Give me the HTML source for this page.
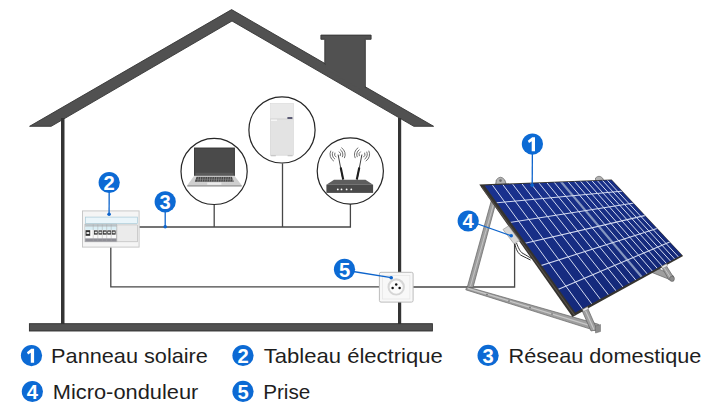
<!DOCTYPE html>
<html><head><meta charset="utf-8"><style>
html,body{margin:0;padding:0;background:#fff;width:720px;height:412px;overflow:hidden;}
svg{display:block;font-family:"Liberation Sans",sans-serif;}
</style></head><body>
<svg width="720" height="412" viewBox="0 0 720 412">
<rect width="720" height="412" fill="#fff"/>
<polygon points="29.6,126.3 231.6,9.6 433.6,126.3 413.8,126.3 232,21 51.2,126.3" fill="#515151" stroke="#353535" stroke-width="0.9" stroke-linejoin="miter"/>
<polygon points="320.9,35.1 371.1,35.1 371.1,39.3 365.3,39.3 365.3,87.5 324.8,64 324.8,39.3 320.9,39.3" fill="#515151" stroke="#353535" stroke-width="0.9"/>
<polygon points="325.5,60 364.8,60 364.8,92 325.5,69" fill="#515151"/>
<rect x="61.0" y="118" width="3.5" height="206" fill="#343434"/>
<rect x="398.0" y="118" width="3.2" height="206" fill="#343434"/>
<rect x="29.4" y="323.7" width="403" height="7.3" fill="#515151" stroke="#2e2e2e" stroke-width="0.9"/>
<g stroke="#474747" stroke-width="1.3" fill="none">
<polyline points="139.3,227 350.4,227 350.4,204"/>
<line x1="214.2" y1="204.7" x2="214.2" y2="227"/>
<line x1="282.5" y1="163.4" x2="282.5" y2="227"/>
<polyline points="110.8,247.3 110.8,286.8 379.5,286.8"/>
<polyline points="413,287 514.6,287 514.6,243"/>
</g>
<circle cx="214.1" cy="171.4" r="33.1" fill="#fff" stroke="#262626" stroke-width="1.2"/>
<circle cx="282.0" cy="129.9" r="33.1" fill="#fff" stroke="#262626" stroke-width="1.2"/>
<circle cx="350.3" cy="171.0" r="33.1" fill="#fff" stroke="#262626" stroke-width="1.2"/>
<rect x="194.5" y="148" width="39.9" height="27.9" fill="#4a4a4a" stroke="#333" stroke-width="0.9"/>
<rect x="195.5" y="172.8" width="37.9" height="2.6" fill="#5a5a5a"/>
<polygon points="194,176 234.6,176 241.7,185.3 187.3,185.3" fill="#cfcfcf"/>
<polygon points="187.3,185.3 241.7,185.3 241.7,186.4 187.3,186.4" fill="#8a8a8a"/>
<polygon points="196.6,176.8 232,176.8 233.8,181.8 194.8,181.8" fill="#444"/>
<line x1="198.40" y1="176.9" x2="197.80" y2="181.7" stroke="#c4c4c4" stroke-width="0.45"/>
<line x1="200.70" y1="176.9" x2="200.10" y2="181.7" stroke="#c4c4c4" stroke-width="0.45"/>
<line x1="203.00" y1="176.9" x2="202.40" y2="181.7" stroke="#c4c4c4" stroke-width="0.45"/>
<line x1="205.30" y1="176.9" x2="204.70" y2="181.7" stroke="#c4c4c4" stroke-width="0.45"/>
<line x1="207.60" y1="176.9" x2="207.00" y2="181.7" stroke="#c4c4c4" stroke-width="0.45"/>
<line x1="209.90" y1="176.9" x2="209.30" y2="181.7" stroke="#c4c4c4" stroke-width="0.45"/>
<line x1="212.20" y1="176.9" x2="211.60" y2="181.7" stroke="#c4c4c4" stroke-width="0.45"/>
<line x1="214.50" y1="176.9" x2="213.90" y2="181.7" stroke="#c4c4c4" stroke-width="0.45"/>
<line x1="216.80" y1="176.9" x2="216.20" y2="181.7" stroke="#c4c4c4" stroke-width="0.45"/>
<line x1="219.10" y1="176.9" x2="218.50" y2="181.7" stroke="#c4c4c4" stroke-width="0.45"/>
<line x1="221.40" y1="176.9" x2="220.80" y2="181.7" stroke="#c4c4c4" stroke-width="0.45"/>
<line x1="223.70" y1="176.9" x2="223.10" y2="181.7" stroke="#c4c4c4" stroke-width="0.45"/>
<line x1="226.00" y1="176.9" x2="225.40" y2="181.7" stroke="#c4c4c4" stroke-width="0.45"/>
<line x1="228.30" y1="176.9" x2="227.70" y2="181.7" stroke="#c4c4c4" stroke-width="0.45"/>
<line x1="230.60" y1="176.9" x2="230.00" y2="181.7" stroke="#c4c4c4" stroke-width="0.45"/>
<line x1="232.90" y1="176.9" x2="232.30" y2="181.7" stroke="#c4c4c4" stroke-width="0.45"/>
<line x1="196" y1="179.3" x2="232.8" y2="179.3" stroke="#9a9a9a" stroke-width="0.4"/>
<rect x="207.2" y="182.5" width="14.2" height="2.3" fill="#ececec"/>
<line x1="194" y1="176.1" x2="234.6" y2="176.1" stroke="#e8e8e8" stroke-width="0.6"/>
<rect x="270.4" y="103.6" width="22.9" height="51.6" fill="#e3e3e3" stroke="#d2d2d2" stroke-width="0.6"/>
<rect x="270.4" y="103.6" width="22.9" height="15" fill="#e9e9e9"/>
<rect x="270.4" y="118.6" width="22.9" height="0.8" fill="#d0d0d0"/>
<rect x="287.4" y="117.2" width="5" height="1.6" fill="#3a3a5a"/>
<rect x="271" y="119.6" width="6" height="1.2" fill="#fafafa"/>
<rect x="270.8" y="155" width="5" height="1.3" fill="#c8c8c8"/>
<rect x="287.6" y="155" width="5" height="1.3" fill="#c8c8c8"/>
<polygon points="334,179.7 365.5,179.7 373.1,184.7 326.4,184.7" fill="#5e5e5e"/>
<rect x="326.4" y="184.7" width="46.7" height="8.2" fill="#4a4a4a"/>
<circle cx="337.8" cy="189.4" r="0.9" fill="#fff"/>
<circle cx="341.5" cy="189.4" r="0.9" fill="#fff"/>
<circle cx="346.6" cy="189.4" r="0.9" fill="#fff"/>
<circle cx="351.3" cy="189.4" r="0.9" fill="#fff"/>
<line x1="338.1" y1="154.6" x2="342.9" y2="179.5" stroke="#2a2a2a" stroke-width="0.9"/>
<line x1="340.7" y1="167.5" x2="343.2" y2="179.5" stroke="#1e1e1e" stroke-width="2.1"/>
<line x1="361.9" y1="154.6" x2="357.1" y2="179.5" stroke="#2a2a2a" stroke-width="0.9"/>
<line x1="359.3" y1="167.5" x2="356.8" y2="179.5" stroke="#1e1e1e" stroke-width="2.1"/>
<g transform="translate(337.6,154.4) rotate(-16)" fill="none" stroke="#505050" stroke-width="0.75" stroke-linecap="round">
<path d="M-2.30,-2.07 A3.1,3.1 0 0 0 -2.30,2.07"/>
<path d="M2.30,-2.07 A3.1,3.1 0 0 1 2.30,2.07"/>
<path d="M-4.01,-3.61 A5.4,5.4 0 0 0 -4.01,3.61"/>
<path d="M4.01,-3.61 A5.4,5.4 0 0 1 4.01,3.61"/>
<path d="M-5.72,-5.15 A7.7,7.7 0 0 0 -5.72,5.15"/>
<path d="M5.72,-5.15 A7.7,7.7 0 0 1 5.72,5.15"/>
</g>
<g transform="translate(362.0,154.4) rotate(16)" fill="none" stroke="#505050" stroke-width="0.75" stroke-linecap="round">
<path d="M-2.30,-2.07 A3.1,3.1 0 0 0 -2.30,2.07"/>
<path d="M2.30,-2.07 A3.1,3.1 0 0 1 2.30,2.07"/>
<path d="M-4.01,-3.61 A5.4,5.4 0 0 0 -4.01,3.61"/>
<path d="M4.01,-3.61 A5.4,5.4 0 0 1 4.01,3.61"/>
<path d="M-5.72,-5.15 A7.7,7.7 0 0 0 -5.72,5.15"/>
<path d="M5.72,-5.15 A7.7,7.7 0 0 1 5.72,5.15"/>
</g>
<rect x="82.5" y="210.9" width="56.6" height="36.2" fill="#f5f5f5" stroke="#c3c3c3" stroke-width="0.9"/>
<rect x="85.4" y="217.1" width="52" height="6.5" fill="#eaf5fa" stroke="#a9cbd8" stroke-width="0.7"/>
<rect x="85" y="224.2" width="31.6" height="17.6" fill="#fafafa" stroke="#9c9c9c" stroke-width="0.6"/>
<rect x="116.9" y="224.9" width="20.5" height="16.9" fill="#ebebeb" stroke="#b3b3b3" stroke-width="0.6"/>
<rect x="85.2" y="224.4" width="31.2" height="2.4" fill="#b9c3c8"/>
<rect x="85.2" y="226.8" width="31.2" height="3" fill="#d9eef5"/>
<rect x="85.2" y="238.4" width="31.2" height="3.2" fill="#8d8d95"/>
<rect x="85.6" y="230.2" width="4.6" height="5.6" fill="#2e2e2e"/>
<rect x="86.5" y="232" width="2.8" height="2" fill="#ddd"/>
<rect x="94.0" y="230.4" width="3.8" height="4.2" fill="#2a2a2a"/>
<rect x="94.7" y="231.6" width="2.4" height="1.7" fill="#e6e6e6"/>
<rect x="98.5" y="230.4" width="3.8" height="4.2" fill="#2a2a2a"/>
<rect x="99.2" y="231.6" width="2.4" height="1.7" fill="#e6e6e6"/>
<rect x="103.0" y="230.4" width="3.8" height="4.2" fill="#2a2a2a"/>
<rect x="103.7" y="231.6" width="2.4" height="1.7" fill="#e6e6e6"/>
<rect x="107.3" y="230.4" width="3.8" height="4.2" fill="#2a2a2a"/>
<rect x="108.0" y="231.6" width="2.4" height="1.7" fill="#e6e6e6"/>
<rect x="111.8" y="230.4" width="3.8" height="4.2" fill="#2a2a2a"/>
<rect x="112.5" y="231.6" width="2.4" height="1.7" fill="#e6e6e6"/>
<line x1="93.2" y1="224.4" x2="93.2" y2="241.6" stroke="#a5a5a5" stroke-width="0.45"/>
<line x1="97.8" y1="224.4" x2="97.8" y2="241.6" stroke="#a5a5a5" stroke-width="0.45"/>
<line x1="102.3" y1="224.4" x2="102.3" y2="241.6" stroke="#a5a5a5" stroke-width="0.45"/>
<line x1="106.7" y1="224.4" x2="106.7" y2="241.6" stroke="#a5a5a5" stroke-width="0.45"/>
<line x1="111.2" y1="224.4" x2="111.2" y2="241.6" stroke="#a5a5a5" stroke-width="0.45"/>
<rect x="379.4" y="272.3" width="33.7" height="29.8" rx="1.6" fill="#f8f8f8" stroke="#bcbcbc" stroke-width="1"/>
<rect x="382.6" y="275.4" width="27.3" height="23.6" fill="none" stroke="#e4e4e4" stroke-width="0.7"/>
<circle cx="396.2" cy="286.9" r="8.7" fill="#d6d6d6"/>
<circle cx="396.2" cy="287.2" r="6.6" fill="#fbfbfb"/>
<circle cx="392.6" cy="287.9" r="1.25" fill="#151515"/>
<circle cx="399.6" cy="287.9" r="1.25" fill="#151515"/>
<circle cx="396.2" cy="284.6" r="1.25" fill="#151515"/>
<polygon points="496.5,182 501.5,182 473,287.5 467.2,287.5" fill="#9e9e9e" stroke="#626262" stroke-width="0.7"/>
<line x1="499.2" y1="184" x2="470.5" y2="286" stroke="#c8c8c8" stroke-width="0.9"/>
<polygon points="466.8,286.7 598.5,324.3 598.5,331.6 465.8,289.8" fill="#9e9e9e" stroke="#626262" stroke-width="0.7"/>
<line x1="468" y1="288.4" x2="597" y2="327.6" stroke="#c8c8c8" stroke-width="1.2"/>
<circle cx="487" cy="294.5" r="0.7" fill="#555"/>
<circle cx="509" cy="301" r="0.7" fill="#555"/>
<circle cx="530" cy="307.5" r="0.7" fill="#555"/>
<circle cx="552" cy="314" r="0.7" fill="#555"/>
<polygon points="581.8,310 587.8,308.5 597,329.5 591,331" fill="#9e9e9e" stroke="#626262" stroke-width="0.7"/>
<line x1="585.2" y1="310" x2="594" y2="329.8" stroke="#c8c8c8" stroke-width="1.1"/>
<polygon points="595.5,326 600.5,324.5 600.5,331.5 595.5,333" fill="#8c8c8c" stroke="#666" stroke-width="0.5"/>
<polygon points="652,268 656,267.5 673.5,276 673.5,281 652,272.5" fill="#9e9e9e" stroke="#626262" stroke-width="0.7"/>
<polygon points="660.5,265 665.5,264.5 674,278 669,280" fill="#9e9e9e" stroke="#626262" stroke-width="0.7"/>
<line x1="663" y1="266" x2="671" y2="278.5" stroke="#c8c8c8" stroke-width="0.9"/>
<ellipse cx="672" cy="278.8" rx="2.4" ry="2.6" fill="#8c8c8c" stroke="#606060" stroke-width="0.6"/>
<path d="M495.8,185 L496.2,180 Q500.5,174.5 504.8,180 L506.5,185 Z" fill="#b4b4b4" stroke="#5e5e5e" stroke-width="0.7"/>
<circle cx="500.5" cy="180.6" r="1.3" fill="#6a6a6a"/>
<path d="M595.5,181 L595.5,178 Q599,174.5 602.5,178 L604,181 Z" fill="#b0b0b0" stroke="#6a6a6a" stroke-width="0.7"/>
<polygon points="479.30,184.50 611.60,179.60 683.10,256.00 572.50,317.10" fill="#35332f"/>
<line x1="481.70" y1="187.00" x2="574.90" y2="315.60" stroke="#564f48" stroke-width="1.1"/>
<defs><linearGradient id="pg" x1="0" y1="0" x2="1" y2="1"><stop offset="0" stop-color="#1a3290"/><stop offset="0.55" stop-color="#162c80"/><stop offset="1" stop-color="#122572"/></linearGradient><clipPath id="pc"><polygon points="484.55,185.45 611.65,180.30 681.59,255.00 575.27,312.55"/></clipPath></defs>
<polygon points="484.55,185.45 611.65,180.30 681.59,255.00 575.27,312.55" fill="url(#pg)"/>
<g clip-path="url(#pc)" fill="none">
<line x1="487.90" y1="178.90" x2="589.55" y2="318.65" stroke-width="1.0" stroke="#d3daf0"/>
<line x1="498.41" y1="178.67" x2="598.69" y2="313.18" stroke-width="1.0" stroke="#d3daf0"/>
<line x1="508.31" y1="178.45" x2="607.18" y2="308.11" stroke-width="1.0" stroke="#d3daf0"/>
<line x1="517.65" y1="178.24" x2="615.09" y2="303.39" stroke-width="1.0" stroke="#d3daf0"/>
<line x1="526.47" y1="178.05" x2="622.47" y2="298.98" stroke-width="1.0" stroke="#d3daf0"/>
<line x1="534.81" y1="177.86" x2="629.37" y2="294.86" stroke-width="1.0" stroke="#d3daf0"/>
<line x1="542.72" y1="177.69" x2="635.85" y2="290.99" stroke-width="1.0" stroke="#d3daf0"/>
<line x1="550.22" y1="177.52" x2="641.92" y2="287.36" stroke-width="1.0" stroke="#d3daf0"/>
<line x1="557.35" y1="177.37" x2="647.65" y2="283.94" stroke-width="2.2" stroke="#8596c0"/>
<line x1="564.13" y1="177.22" x2="653.04" y2="280.72" stroke-width="1.0" stroke="#d3daf0"/>
<line x1="570.59" y1="177.07" x2="658.14" y2="277.68" stroke-width="1.0" stroke="#d3daf0"/>
<line x1="576.75" y1="176.94" x2="662.96" y2="274.80" stroke-width="1.0" stroke="#d3daf0"/>
<line x1="582.63" y1="176.81" x2="667.52" y2="272.07" stroke-width="1.0" stroke="#d3daf0"/>
<line x1="588.25" y1="176.68" x2="671.85" y2="269.49" stroke-width="1.0" stroke="#d3daf0"/>
<line x1="593.63" y1="176.56" x2="675.97" y2="267.03" stroke-width="1.0" stroke="#d3daf0"/>
<line x1="598.78" y1="176.45" x2="679.88" y2="264.69" stroke-width="1.0" stroke="#d3daf0"/>
<line x1="603.72" y1="176.34" x2="683.61" y2="262.46" stroke-width="1.0" stroke="#d3daf0"/>
<line x1="483.02" y1="204.05" x2="626.30" y2="190.73" stroke-width="1.05" stroke="#d3daf0"/>
<line x1="497.10" y1="224.46" x2="637.35" y2="202.45" stroke-width="1.05" stroke="#d3daf0"/>
<line x1="512.15" y1="246.28" x2="648.84" y2="214.63" stroke-width="1.05" stroke="#d3daf0"/>
<line x1="528.27" y1="269.66" x2="660.80" y2="227.31" stroke-width="1.05" stroke="#d3daf0"/>
<line x1="545.57" y1="294.75" x2="673.25" y2="240.51" stroke-width="1.05" stroke="#d3daf0"/>
</g>
<polygon points="582.5,309.5 587.5,306.8 588.5,309 583.5,311.5" fill="#e8e8e8" stroke="#888" stroke-width="0.5"/>
<polygon points="661.5,266.5 666.5,263.8 667.5,266 662.5,268.5" fill="#e8e8e8" stroke="#888" stroke-width="0.5"/>
<polygon points="503,229.5 508.5,226 519.5,240.5 514,243.8" fill="#d8d8d8" stroke="#9a9a9a" stroke-width="0.7"/>
<path d="M516.5,243 C518,247 520,252 523,253.5 C526,255 528,256.5 531.5,258.5" fill="none" stroke="#1e1e1e" stroke-width="0.9"/>
<path d="M514.8,244 C516,249 518,254 522,255.8 C525,257.2 527.5,258.5 530.5,260" fill="none" stroke="#1e1e1e" stroke-width="0.9"/>
<line x1="532.4" y1="150" x2="532.2" y2="185.2" stroke="#0d64cc" stroke-width="1.3"/>
<circle cx="532.2" cy="185.2" r="1.8" fill="#0d64cc"/>
<circle cx="532.4" cy="144.1" r="10.6" fill="#0c6ad4"/>
<path transform="translate(532.40,144.10)" d="M-0.7,7.1 L2.6,7.1 L2.6,-6.9 L-0.2,-6.9 L-4.6,-3.4 L-3.4,-1 L-0.7,-2.9 Z" fill="#fff"/>
<line x1="109.2" y1="190" x2="109.1" y2="214.3" stroke="#0d64cc" stroke-width="1.3"/>
<circle cx="109.1" cy="214.3" r="1.8" fill="#0d64cc"/>
<circle cx="109.2" cy="182.5" r="10.6" fill="#0c6ad4"/>
<text x="109.20" y="189.70" text-anchor="middle" font-family="Liberation Sans" font-weight="bold" font-size="20.2" fill="#fff">2</text>
<line x1="165.2" y1="208" x2="165.2" y2="226.8" stroke="#0d64cc" stroke-width="1.3"/>
<circle cx="165.2" cy="226.8" r="1.8" fill="#0d64cc"/>
<circle cx="165.2" cy="201.8" r="10.6" fill="#0c6ad4"/>
<text x="165.20" y="209.00" text-anchor="middle" font-family="Liberation Sans" font-weight="bold" font-size="20.2" fill="#fff">3</text>
<line x1="475" y1="223" x2="511.2" y2="235.8" stroke="#0d64cc" stroke-width="1.3"/>
<circle cx="511.2" cy="235.8" r="1.8" fill="#0d64cc"/>
<circle cx="468.2" cy="221" r="10.6" fill="#0c6ad4"/>
<text x="468.20" y="228.20" text-anchor="middle" font-family="Liberation Sans" font-weight="bold" font-size="20.2" fill="#fff">4</text>
<line x1="350" y1="271" x2="391.2" y2="277.7" stroke="#0d64cc" stroke-width="1.3"/>
<circle cx="391.2" cy="277.7" r="1.8" fill="#0d64cc"/>
<circle cx="344.5" cy="269.3" r="10.6" fill="#0c6ad4"/>
<text x="344.50" y="276.50" text-anchor="middle" font-family="Liberation Sans" font-weight="bold" font-size="20.2" fill="#fff">5</text>
<circle cx="31.5" cy="355.6" r="10.6" fill="#0c6ad4"/>
<path transform="translate(31.50,355.60)" d="M-0.7,7.1 L2.6,7.1 L2.6,-6.9 L-0.2,-6.9 L-4.6,-3.4 L-3.4,-1 L-0.7,-2.9 Z" fill="#fff"/>
<text x="51.1" y="363" font-family="Liberation Sans" font-size="21" fill="#1e1e1e" textLength="156.8" lengthAdjust="spacingAndGlyphs">Panneau solaire</text>
<circle cx="243" cy="355.5" r="10.6" fill="#0c6ad4"/>
<text x="243.00" y="362.70" text-anchor="middle" font-family="Liberation Sans" font-weight="bold" font-size="20.2" fill="#fff">2</text>
<text x="263.8" y="363" font-family="Liberation Sans" font-size="21" fill="#1e1e1e" textLength="178.9" lengthAdjust="spacingAndGlyphs">Tableau électrique</text>
<circle cx="488.1" cy="355.4" r="10.6" fill="#0c6ad4"/>
<text x="488.10" y="362.60" text-anchor="middle" font-family="Liberation Sans" font-weight="bold" font-size="20.2" fill="#fff">3</text>
<text x="508.6" y="363" font-family="Liberation Sans" font-size="21" fill="#1e1e1e" textLength="192.7" lengthAdjust="spacingAndGlyphs">Réseau domestique</text>
<circle cx="32.4" cy="391.5" r="10.6" fill="#0c6ad4"/>
<text x="32.40" y="398.70" text-anchor="middle" font-family="Liberation Sans" font-weight="bold" font-size="20.2" fill="#fff">4</text>
<text x="52.8" y="398.8" font-family="Liberation Sans" font-size="21" fill="#1e1e1e" textLength="145.5" lengthAdjust="spacingAndGlyphs">Micro-onduleur</text>
<circle cx="243" cy="391.4" r="10.6" fill="#0c6ad4"/>
<text x="243.00" y="398.60" text-anchor="middle" font-family="Liberation Sans" font-weight="bold" font-size="20.2" fill="#fff">5</text>
<text x="263.2" y="398.8" font-family="Liberation Sans" font-size="21" fill="#1e1e1e" textLength="47.1" lengthAdjust="spacingAndGlyphs">Prise</text>
</svg>
</body></html>
